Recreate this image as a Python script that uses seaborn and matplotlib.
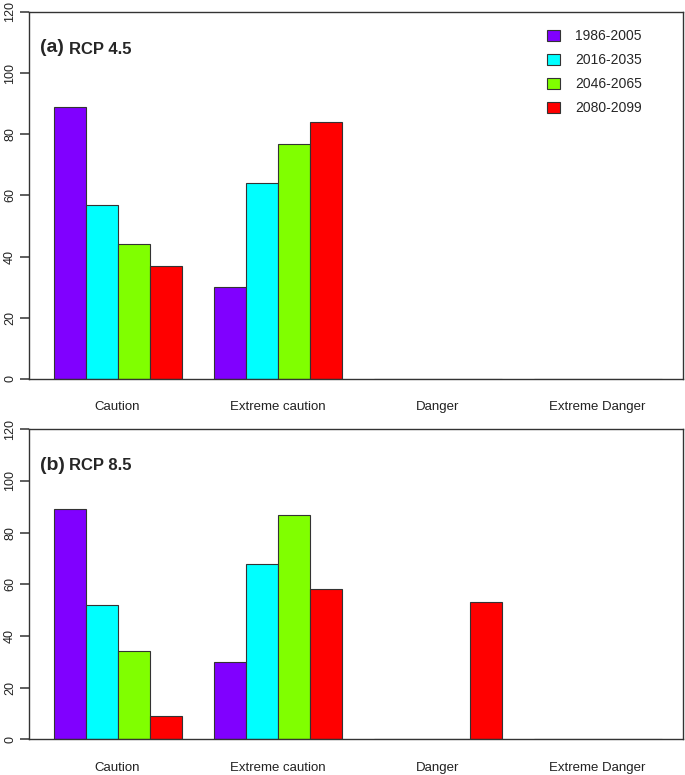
import pandas as pd
import numpy as np
import matplotlib
matplotlib.use("Agg")
import matplotlib.pyplot as plt
import seaborn as sns

# data
categories = ["Caution", "Extreme caution", "Danger", "Extreme Danger"]
periods = ["1986-2005", "2016-2035", "2046-2065", "2080-2099"]
colors = ["#8000FF", "#00FFFF", "#80FF00", "#FF0000"]

# values per period, one entry per category
rcp45 = [
    [89, 30, 0, 0],
    [57, 64, 0, 0],
    [44, 77, 0, 0],
    [37, 84, 0, 0],
]
rcp85 = [
    [89, 30, 0, 0],
    [52, 68, 0, 0],
    [34, 87, 0, 0],
    [9, 58, 53, 0],
]
yticks = [0, 20, 40, 60, 80, 100, 120]


def to_long(vals):
    rows = []
    for p, v in zip(periods, vals):
        for c, x in zip(categories, v):
            rows.append({"category": c, "period": p, "value": x})
    return pd.DataFrame(rows)


sns.set_style("ticks")
plt.rcParams["font.family"] = ["Liberation Sans", "DejaVu Sans"]

W, H = 685, 775
fig = plt.figure(figsize=(W / 100, H / 100), dpi=100)


def px_axes(left, top, right, bottom):
    return fig.add_axes([left / W, 1 - bottom / H, (right - left) / W, (bottom - top) / H])


ax_a = px_axes(29.3, 12, 682.7, 379)
ax_b = px_axes(29.3, 429.3, 682.7, 739.3)

panels = [(ax_a, rcp45, "(a)", "RCP 4.5", 48), (ax_b, rcp85, "(b)", "RCP 8.5", 465)]

for ax, vals, tag, name, ty in panels:
    df = to_long(vals)
    sns.barplot(
        data=df, x="category", y="value", hue="period",
        order=categories, hue_order=periods, palette=colors,
        saturation=1, width=0.8, edgecolor="#333333", linewidth=0.8,
        ax=ax,
    )
    ax.set_xlim(-0.552, 3.532)
    ax.set_ylim(0, 120)
    ax.set_yticks(yticks)
    ax.set_yticklabels([str(t) for t in yticks], rotation=90, va="center", fontsize=9, color="#222222")
    ax.tick_params(axis="y", which="major", length=6.5, width=1.1, pad=3,
                   direction="out", color="#333333")
    ax.tick_params(axis="x", length=0, pad=16, labelsize=9.5, labelcolor="#222222")
    ax.set_xlabel("")
    ax.set_ylabel("")
    for s in ax.spines.values():
        s.set_visible(True)
        s.set_color("#333333")
        s.set_linewidth(1.0)
    if ax.get_legend() is not None:
        ax.get_legend().remove()
    fig.text(40 / W, 1 - ty / H, tag, fontsize=14, fontweight="bold", va="center", ha="left")
    fig.text(69 / W, 1 - (ty + 1) / H, name, fontsize=12, fontweight="bold", va="center", ha="left")

handles, labels = ax_a.get_legend_handles_labels()
ax_a.legend(
    handles, labels,
    loc="upper left", bbox_to_anchor=(547 / W, 1 - 29.5 / H),
    bbox_transform=fig.transFigure, frameon=False,
    fontsize=10, handlelength=0.9, handleheight=0.9,
    handletextpad=1.15, labelspacing=0.72, borderpad=0, borderaxespad=0,
)

fig.savefig("out.png", dpi=100)
